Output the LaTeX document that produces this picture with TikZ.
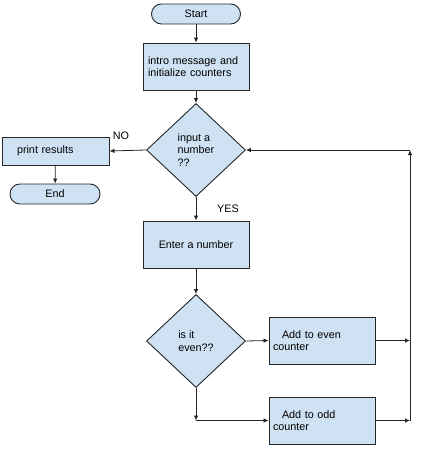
\documentclass[tikz,border=0pt]{standalone}
\usepackage{fontspec}
\setmainfont{Liberation Sans}
\usepackage{tikz}
\usetikzlibrary{arrows.meta,positioning,shapes.geometric,calc}

\definecolor{boxblue}{HTML}{CFE2F3}
\definecolor{lineg}{HTML}{262626}

\begin{document}
\begin{tikzpicture}[
  x=1pt, y=-1pt,
  font=\fontsize{10.8}{12.5}\selectfont,
  box/.style={draw=lineg, fill=boxblue, line width=0.9pt, minimum width=106pt, minimum height=47pt, inner sep=0pt},
  term/.style={draw=lineg, fill=boxblue, line width=0.9pt, rounded corners=10pt, minimum height=20pt, inner sep=0pt},
  decision/.style={draw=lineg, fill=boxblue, line width=0.9pt, diamond, minimum width=99pt, minimum height=93pt, inner sep=0pt, align=left},
  lbl/.style={font=\fontsize{10.8}{12.5}\selectfont},
  arrow/.style={-{Latex[length=5pt,width=4.5pt]}, draw=lineg, line width=0.8pt}
]
\useasboundingbox[fill=white] (0,0) rectangle (423,455);

\node[term, minimum width=89pt] (start) at (196,14) {Start};
\node[box, text width=96pt, align=left] (intro) at (196,66.5) {intro message and\\initialize counters};
\node[decision] (more) at (196,150) {input a\\number\\??};
\node[box, minimum width=107pt, minimum height=28pt, text width=77pt, align=left] (print) at (55.5,151) {print results};
\node[term, minimum width=90pt] (end) at (55,194) {End};

\node[box] (enter) at (196,244.5) {Enter a number};
\node[decision] (iseven) at (196,341) {is it\\even??};
\node[box, text width=98pt, align=left] (addeven) at (322,340.5) {\hspace*{9pt}Add to even\\counter};
\node[box, text width=98pt, align=left] (addodd) at (322,420.5) {\hspace*{9pt}Add to odd\\counter};

\node[lbl] (no) at (121,136) {NO};
\node[lbl] (yes) at (228,209) {YES};

\coordinate (jeven) at (410,340.5);
\coordinate (jodd) at (410,420.5);
\coordinate (jtop) at (410,150);
\coordinate (split) at (196,420.5);

\draw[arrow] (start) -- (intro);
\draw[arrow] (intro) -- (more);
\draw[arrow] (more.west) -- (print.east);
\draw[arrow] (print) -- (end);
\draw[arrow] (more.south) -- (enter.north);
\draw[arrow] (enter) -- (iseven);
\draw[arrow] (iseven.east) -- (addeven.west);
\draw[arrow] (iseven.south) -- (split);
\draw[arrow] (split) -- (addodd.west);
\draw[arrow] (addeven.east) -- (jeven);
\draw[arrow] (addodd.east) -- (jodd);
\draw[arrow] (jodd) -- (jtop);
\draw[arrow] (jtop) -- (more.east);

\end{tikzpicture}
\end{document}
